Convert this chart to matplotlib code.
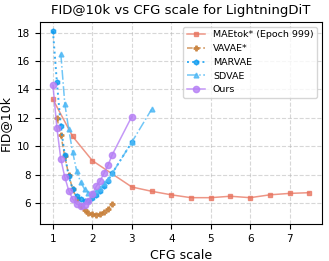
import matplotlib
matplotlib.use('Agg')
import matplotlib.pyplot as plt

### Data

mae_x = [1.0, 1.5, 2.0, 3.0, 3.5, 4.0, 4.5, 5.0, 5.5, 6.0, 6.5, 7.0, 7.5]
mae_y = [13.3, 10.7, 9.0, 7.15, 6.85, 6.6, 6.4, 6.4, 6.5, 6.4, 6.6, 6.7, 6.75]

vavae_x = [1.1, 1.2, 1.3, 1.4, 1.5, 1.6, 1.7, 1.8, 1.9, 2.0, 2.1, 2.2, 2.3, 2.4, 2.5]
vavae_y = [12.0, 10.8, 9.3, 8.0, 7.0, 6.3, 5.8, 5.5, 5.3, 5.25, 5.2, 5.25, 5.4, 5.6, 5.95]

marvae_x = [1.0, 1.1, 1.2, 1.3, 1.4, 1.5, 1.6, 1.7, 1.8, 1.9, 2.0, 2.1, 2.2, 2.3, 2.4, 2.5, 3.0]
marvae_y = [18.1, 14.5, 11.4, 9.4, 7.9, 7.0, 6.5, 6.3, 6.2, 6.2, 6.4, 6.6, 6.9, 7.2, 7.6, 8.1, 10.3]

sdvae_x = [1.2, 1.3, 1.4, 1.5, 1.6, 1.7, 1.8, 1.9, 2.0, 2.1, 2.2, 2.3, 2.4, 2.5, 3.0, 3.5]
sdvae_y = [16.5, 13.0, 11.2, 9.6, 8.3, 7.5, 7.0, 6.75, 6.7, 6.85, 7.1, 7.4, 7.7, 8.1, 10.3, 12.6]

ours_x = [1.0, 1.1, 1.2, 1.3, 1.4, 1.5, 1.6, 1.7, 1.8, 1.9, 2.0, 2.1, 2.2, 2.3, 2.4, 2.5, 3.0]
ours_y = [14.3, 11.3, 9.1, 7.85, 6.9, 6.3, 5.95, 5.85, 5.9, 6.2, 6.65, 7.2, 7.6, 8.15, 8.7, 9.4, 12.1]

### Plot

fig = plt.figure(figsize=(3.29, 2.61), dpi=100)
ax = fig.add_axes([0.122, 0.142, 0.857, 0.774])

ax.plot(mae_x, mae_y, '-', marker='s', color='#E8735E', markersize=3.5, lw=1.1,
        alpha=0.75, label='MAEtok* (Epoch 999)')
ax.plot(vavae_x, vavae_y, '--', marker='P', color='#C8803A', markersize=3.5, lw=1.1,
        alpha=0.8, label='VAVAE*')
ax.plot(marvae_x, marvae_y, ':', marker='h', color='#0A9AF0', markersize=3.5, lw=1.4,
        alpha=0.8, label='MARVAE')
ax.plot(sdvae_x, sdvae_y, '-.', marker='^', color='#4DB8F5', markersize=3.5, lw=1.1,
        alpha=0.8, label='SDVAE')
ax.plot(ours_x, ours_y, '-', marker='o', color='#B57EF5', markersize=4.5, lw=1.1,
        alpha=0.8, label='Ours')

ax.set_xticks([1, 2, 3, 4, 5, 6, 7])
ax.set_yticks([6, 8, 10, 12, 14, 16, 18])
ax.grid(True, linestyle='--', alpha=0.5)

ax.set_title('FID@10k vs CFG scale for LightningDiT', fontsize=9.5)
ax.set_xlabel('CFG scale', fontsize=9)
ax.set_ylabel('FID@10k', fontsize=9)
ax.tick_params(labelsize=7.5)
ax.legend(fontsize=6.8, loc='upper right')

fig.savefig('out.png')
plt.close(fig)
